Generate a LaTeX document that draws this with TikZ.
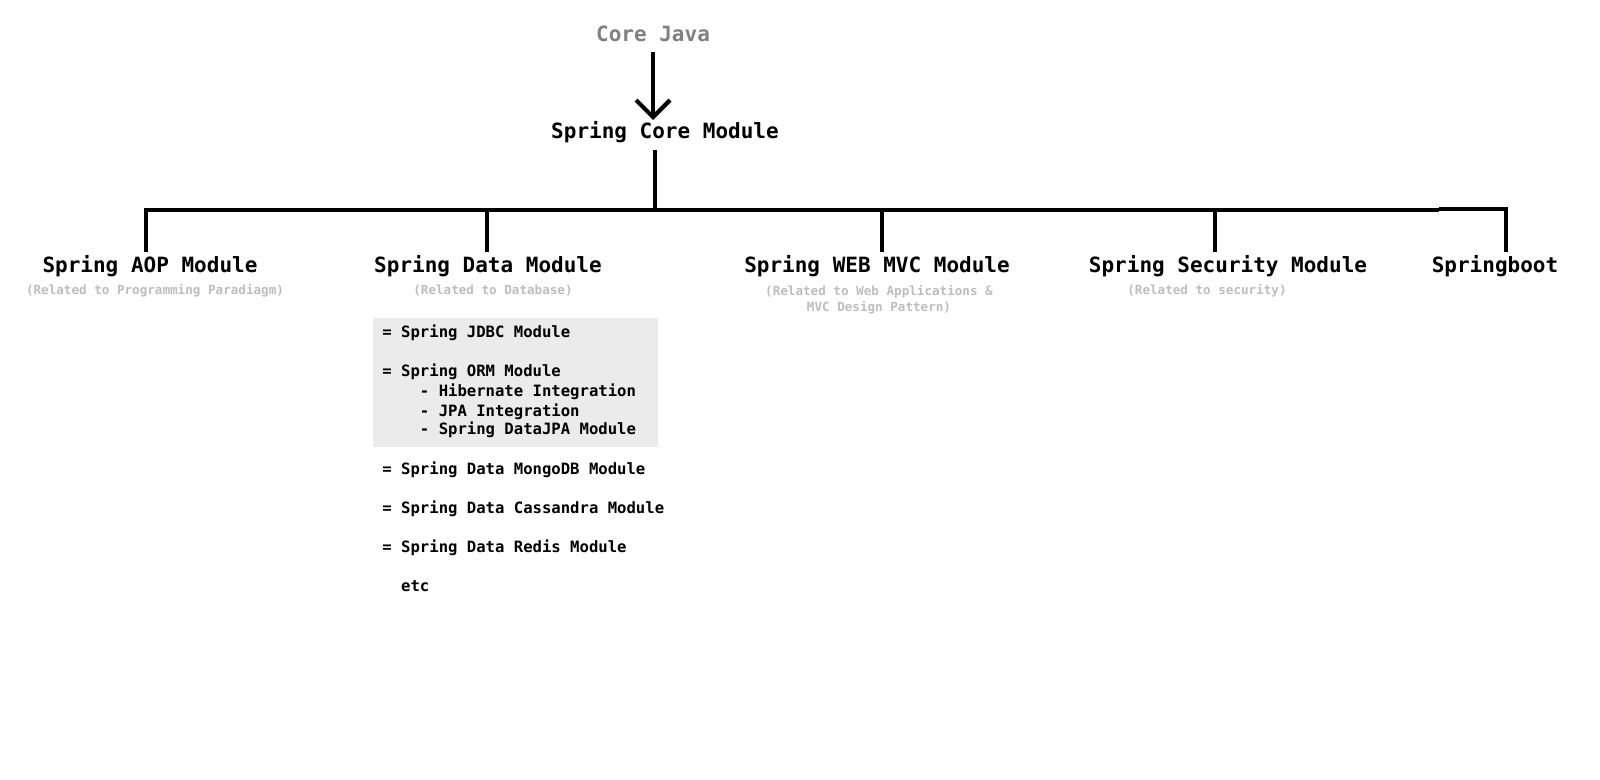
\documentclass[tikz,border=0pt]{standalone}
\usepackage{fontspec}
\setmonofont{DejaVu Sans Mono}
\usetikzlibrary{arrows.meta}
\definecolor{javagray}{HTML}{808080}
\definecolor{subgray}{HTML}{BDBDBD}
\definecolor{boxgray}{HTML}{EBEBEB}
\tikzset{
  bigtxt/.style={font=\ttfamily\bfseries\fontsize{10.5}{12}\selectfont, inner sep=0pt, anchor=base},
  subtxt/.style={font=\ttfamily\bfseries\fontsize{6.3}{7.5}\selectfont, text=subgray, inner sep=0pt, anchor=base},
  listtxt/.style={font=\ttfamily\bfseries\fontsize{7.8}{9}\selectfont, inner sep=0pt, anchor=base west},
  conn/.style={line width=2.1pt, draw=black}
}
\begin{document}
\begin{tikzpicture}[x=0.5pt,y=-0.5pt]
\useasboundingbox (0,0) rectangle (1600,780);
% title nodes
\node[bigtxt, text=javagray] (java) at (653,42) {Core Java};
\node[bigtxt] (core) at (665,139) {Spring Core Module};
% module labels
\node[bigtxt] (aop) at (150,273) {Spring AOP Module};
\node[bigtxt] (data) at (488,273) {Spring Data Module};
\node[bigtxt] (mvc) at (877,273) {Spring WEB MVC Module};
\node[bigtxt] (sec) at (1228,273) {Spring Security Module};
\node[bigtxt] (boot) at (1495,273) {Springboot};
% sub labels
\node[subtxt] (aopsub) at (155,295) {(Related to Programming Paradiagm)};
\node[subtxt] (datasub) at (493,295) {(Related to Database)};
\node[subtxt] (mvcsub1) at (879,296) {(Related to Web Applications \&};
\node[subtxt] (mvcsub2) at (879,312) {MVC Design Pattern)};
\node[subtxt] (secsub) at (1207,295) {(Related to security)};
% grey box
\node[fill=boxgray, inner sep=0pt, minimum width=142.5pt, minimum height=64.5pt] (ormbox) at (515.5,382.5) {};
% list
\node[listtxt] (l1) at (382,338) {= Spring JDBC Module};
\node[listtxt] (l2) at (382,377) {= Spring ORM Module};
\node[listtxt] (l3) at (382,396) {\ \ \ \ - Hibernate Integration};
\node[listtxt] (l4) at (382,416) {\ \ \ \ - JPA Integration};
\node[listtxt] (l5) at (382,435) {\ \ \ \ - Spring DataJPA Module};
\node[listtxt] (l6) at (382,474) {= Spring Data MongoDB Module};
\node[listtxt] (l7) at (382,513) {= Spring Data Cassandra Module};
\node[listtxt] (l8) at (382,552) {= Spring Data Redis Module};
\node[listtxt] (l9) at (382,591) {\ \ etc};
% connector coordinates
\coordinate (ja) at (653,52);
\coordinate (jb) at (653,120);
\coordinate (ca) at (655,150);
\coordinate (cb) at (655,210);
\coordinate (bA) at (146,210);
\coordinate (bD) at (487,210);
\coordinate (bM) at (882,210);
\coordinate (bS) at (1215,210);
\coordinate (bE) at (1439,210);
\coordinate (bE2) at (1439,209);
\coordinate (bB) at (1506,209);
% connectors
\draw[conn, -{Straight Barb[length=8.5pt,width=17pt,line width=2.1pt]}] (ja) -- (jb);
\draw[conn] (ca) -- (cb);
\draw[conn] ([yshift=2pt]bA |- aop.north) -- (bA) -- (bE);
\draw[conn] (bE2) -- (bB) -- ([yshift=2pt]bB |- boot.north);
\draw[conn] (bD) -- ([yshift=2pt]bD |- data.north);
\draw[conn] (bM) -- ([yshift=2pt]bM |- mvc.north);
\draw[conn] (bS) -- ([yshift=2pt]bS |- sec.north);
\end{tikzpicture}
\end{document}
